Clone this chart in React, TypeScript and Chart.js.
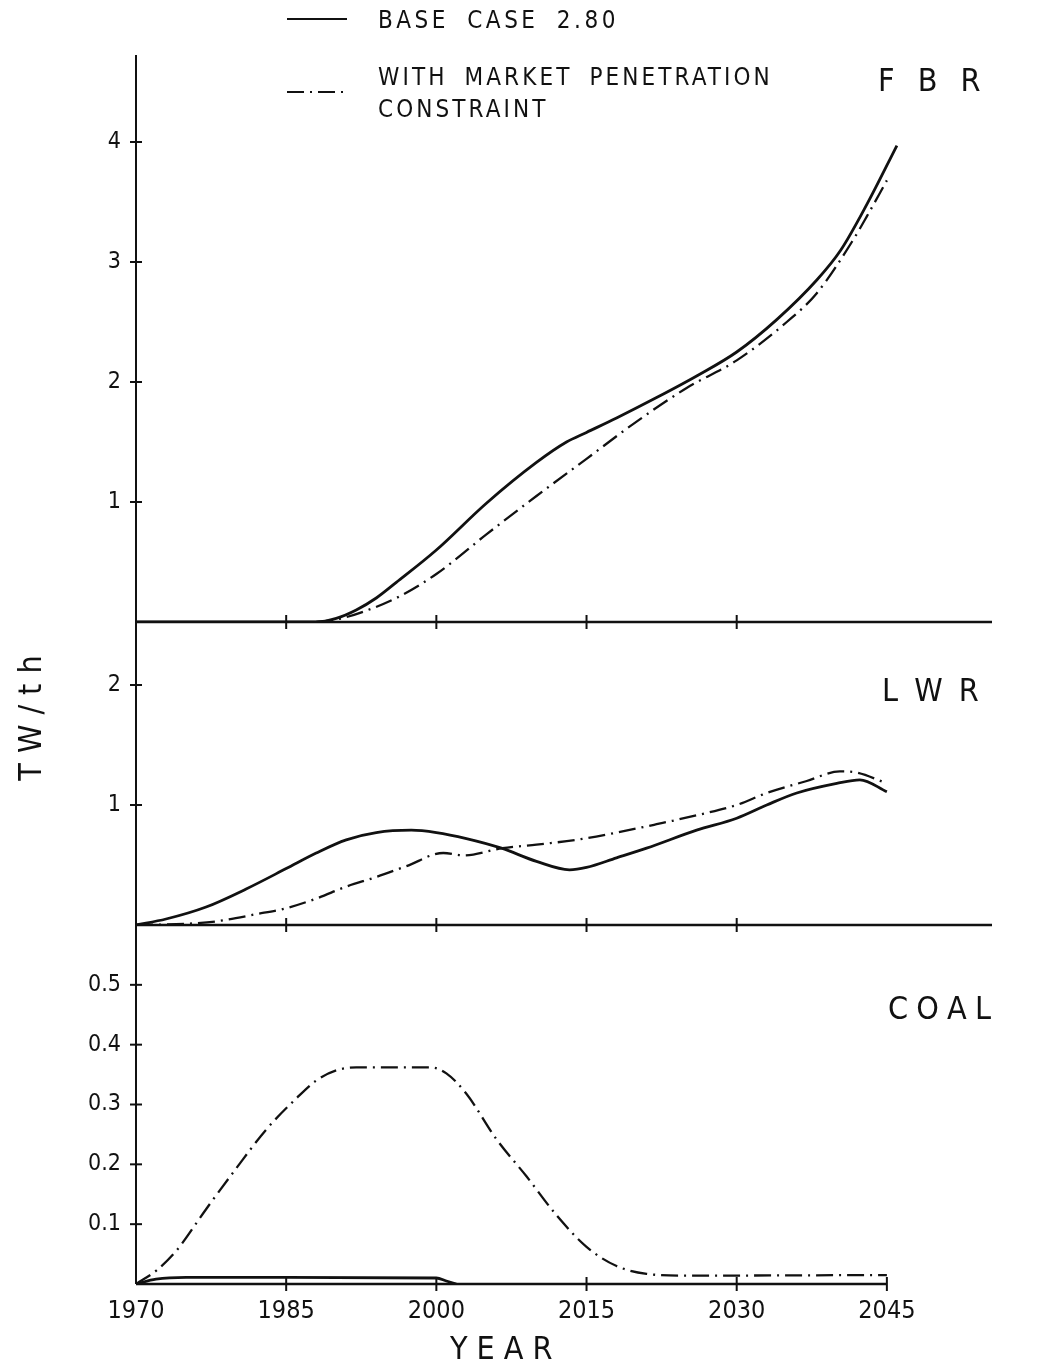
import React, { useEffect, useRef } from "react";
import { Chart, registerables } from "chart.js";

Chart.register(...registerables);

// ---------- data ----------
const X_MIN = 1970;
const X_MAX = 2055.5;
const X_TICKS = [1970, 1985, 2000, 2015, 2030, 2045];

const FBR_BASE_YEARS = [1970, 1980, 1988, 1990, 1992, 1994, 1996, 2000, 2005, 2010, 2013, 2015, 2018, 2022, 2026, 2030, 2034, 2038, 2040.4, 2043, 2046];
const FBR_BASE_VALUES = [0, 0, 0, 0.03, 0.1, 0.2, 0.33, 0.6, 0.99, 1.33, 1.5, 1.58, 1.7, 1.87, 2.05, 2.25, 2.52, 2.85, 3.1, 3.48, 3.97];

const FBR_MPC_YEARS = [1988, 1990, 1992.7, 1996, 2000, 2005, 2010, 2015, 2020, 2025, 2030, 2035, 2038, 2041.6, 2043, 2045];
const FBR_MPC_VALUES = [0, 0.02, 0.086, 0.2, 0.4, 0.73, 1.05, 1.36, 1.67, 1.95, 2.18, 2.5, 2.74, 3.18, 3.38, 3.68];

const LWR_BASE_YEARS = [1970, 1973, 1977, 1981, 1985, 1988, 1991, 1994, 1997.5, 2000, 2003, 2006.5, 2010, 2013.3, 2015, 2018, 2021, 2026, 2030, 2033, 2036, 2040, 2042.3, 2045];
const LWR_BASE_VALUES = [0, 0.05, 0.15, 0.3, 0.47, 0.6, 0.71, 0.77, 0.79, 0.77, 0.72, 0.64, 0.53, 0.46, 0.48, 0.56, 0.64, 0.79, 0.89, 1.0, 1.1, 1.18, 1.21, 1.11];

const LWR_MPC_YEARS = [1970, 1975, 1978, 1982, 1985, 1988, 1991, 1994, 1997, 2000.7, 2002.7, 2006.6, 2010, 2014, 2018, 2022, 2026.3, 2030, 2033, 2037, 2040.3, 2042, 2045];
const LWR_MPC_VALUES = [0, 0.01, 0.03, 0.09, 0.14, 0.22, 0.32, 0.4, 0.49, 0.6, 0.58, 0.64, 0.67, 0.71, 0.77, 0.84, 0.92, 1.0, 1.1, 1.2, 1.28, 1.27, 1.18];

const COAL_BASE_YEARS = [1970, 1972, 1975, 1985, 2000, 2001, 2002];
const COAL_BASE_VALUES = [0, 0.008, 0.011, 0.011, 0.01, 0.005, 0];

const COAL_MPC_YEARS = [1970, 1972, 1974, 1977, 1980, 1983, 1986, 1988, 1990, 1992, 1999.5, 2001, 2003, 2006, 2009, 2012, 2015, 2018, 2021, 2025, 2045];
const COAL_MPC_VALUES = [0, 0.022, 0.055, 0.125, 0.193, 0.258, 0.31, 0.34, 0.357, 0.362, 0.362, 0.352, 0.318, 0.242, 0.18, 0.115, 0.062, 0.03, 0.017, 0.014, 0.015];

const FBR_Y_TICKS = [1, 2, 3, 4];
const LWR_Y_TICKS = [1, 2];
const COAL_Y_TICKS = [0.1, 0.2, 0.3, 0.4, 0.5];

const LEGEND_BASE = "BASE CASE 2.80";
const LEGEND_MPC_1 = "WITH MARKET PENETRATION";
const LEGEND_MPC_2 = "CONSTRAINT";
const TITLE_FBR = "F B R";
const TITLE_LWR = "L W R";
const TITLE_COAL = "C O A L";
const X_TITLE = "YEAR";
const Y_TITLE = "TW/th";

// ---------- style ----------
const FONT = '"DejaVu Sans Condensed", "Liberation Sans Narrow", "DejaVu Sans", sans-serif';
const INK = "#111";
const DASH = [17, 6, 2, 6];

type Series = { years: number[]; values: number[]; dashed: boolean };
type PanelCfg = {
  top: number;
  bottom: number;
  yMax: number;
  yTicks: number[];
  decimals: number;
  showX: boolean;
  baseEnd: number;
  xMarks: number[];
  series: Series[];
};

function axesPlugin(cfg: PanelCfg) {
  return {
    id: "panelAxes",
    afterDatasetsDraw(chart: any) {
      const { ctx, chartArea: a, scales } = chart;
      const x = scales.x;
      const y = scales.y;
      const line = (x1: number, y1: number, x2: number, y2: number) => {
        ctx.beginPath();
        ctx.moveTo(x1, y1);
        ctx.lineTo(x2, y2);
        ctx.stroke();
      };
      ctx.save();
      ctx.strokeStyle = INK;
      ctx.lineCap = "butt";
      ctx.lineWidth = 2;
      line(a.left, a.top, a.left, a.bottom);
      cfg.yTicks.forEach((v) => {
        const py = y.getPixelForValue(v);
        line(a.left - 6, py, a.left + 6, py);
      });
      const y0 = y.getPixelForValue(0);
      ctx.lineWidth = 2.5;
      line(a.left, y0, x.getPixelForValue(cfg.baseEnd), y0);
      ctx.lineWidth = 2;
      cfg.xMarks.forEach((v) => {
        const px = x.getPixelForValue(v);
        line(px, y0 - 7, px, y0 + 7);
      });
      ctx.restore();
    },
  };
}

function makeChart(canvas: HTMLCanvasElement, cfg: PanelCfg) {
  return new Chart(canvas, {
    type: "line",
    data: {
      datasets: cfg.series.map((s) => ({
        data: s.years.map((yr, i) => ({ x: yr, y: s.values[i] })),
        borderColor: INK,
        borderWidth: s.dashed ? 2.3 : 2.8,
        borderDash: s.dashed ? DASH : [],
        pointRadius: 0,
        fill: false,
        cubicInterpolationMode: "monotone",
      })),
    },
    options: {
      animation: false,
      responsive: false,
      maintainAspectRatio: false,
      events: [],
      layout: { padding: { left: 86, right: 56, top: cfg.top, bottom: cfg.bottom } },
      plugins: { legend: { display: false }, tooltip: { enabled: false }, title: { display: false } },
      scales: {
        x: {
          type: "linear",
          min: X_MIN,
          max: X_MAX,
          display: cfg.showX,
          afterFit: (s: any) => {
            s.height = cfg.showX ? 60 : 0;
          },
          afterBuildTicks: (s: any) => {
            s.ticks = X_TICKS.map((v) => ({ value: v }));
          },
          grid: { display: false, drawTicks: false },
          border: { display: false },
          ticks: {
            padding: 12,
            maxRotation: 0,
            autoSkip: false,
            color: INK,
            font: { family: FONT, size: 25 },
            callback: (v: any) => String(v),
          },
        },
        y: {
          type: "linear",
          min: 0,
          max: cfg.yMax,
          afterFit: (s: any) => {
            s.width = 50;
          },
          afterBuildTicks: (s: any) => {
            s.ticks = cfg.yTicks.map((v) => ({ value: v }));
          },
          grid: { display: false, drawTicks: false },
          border: { display: false },
          ticks: {
            padding: 15,
            color: INK,
            font: { family: FONT, size: 23 },
            callback: (v: any) => Number(v).toFixed(cfg.decimals),
          },
        },
      },
    } as any,
    plugins: [axesPlugin(cfg)],
  });
}

const PANELS: PanelCfg[] = [
  {
    top: 55,
    bottom: 1364 - 622,
    yMax: 4.725,
    yTicks: FBR_Y_TICKS,
    decimals: 0,
    showX: false,
    baseEnd: X_MAX,
    xMarks: [1985, 2000, 2015, 2030],
    series: [
      { years: FBR_BASE_YEARS, values: FBR_BASE_VALUES, dashed: false },
      { years: FBR_MPC_YEARS, values: FBR_MPC_VALUES, dashed: true },
    ],
  },
  {
    top: 622,
    bottom: 1364 - 925,
    yMax: 2.525,
    yTicks: LWR_Y_TICKS,
    decimals: 0,
    showX: false,
    baseEnd: X_MAX,
    xMarks: [1985, 2000, 2015, 2030],
    series: [
      { years: LWR_BASE_YEARS, values: LWR_BASE_VALUES, dashed: false },
      { years: LWR_MPC_YEARS, values: LWR_MPC_VALUES, dashed: true },
    ],
  },
  {
    top: 925,
    bottom: 1364 - 1284 - 60,
    yMax: 0.6,
    yTicks: COAL_Y_TICKS,
    decimals: 1,
    showX: true,
    baseEnd: 2045,
    xMarks: [1985, 2000, 2015, 2030, 2045],
    series: [
      { years: COAL_BASE_YEARS, values: COAL_BASE_VALUES, dashed: false },
      { years: COAL_MPC_YEARS, values: COAL_MPC_VALUES, dashed: true },
    ],
  },
];

function Text(props: { left: number; cy: number; size: number; spacing: number; word?: number; children: React.ReactNode }) {
  return (
    <div
      style={{
        position: "absolute",
        left: props.left,
        top: props.cy - props.size * 0.6,
        height: props.size * 1.2,
        lineHeight: `${props.size * 1.2}px`,
        fontSize: props.size,
        fontFamily: FONT,
        letterSpacing: props.spacing,
        wordSpacing: props.word ?? 0,
        color: INK,
        whiteSpace: "pre",
      }}
    >
      {props.children}
    </div>
  );
}

export default function App() {
  const r0 = useRef<HTMLCanvasElement>(null);
  const r1 = useRef<HTMLCanvasElement>(null);
  const r2 = useRef<HTMLCanvasElement>(null);

  useEffect(() => {
    const refs = [r0, r1, r2];
    const charts = PANELS.map((p, i) => makeChart(refs[i].current as HTMLCanvasElement, p));
    return () => charts.forEach((c) => c.destroy());
  }, []);

  const canvasStyle: React.CSSProperties = { position: "absolute", left: 0, top: 0, width: 1048, height: 1364 };

  return (
    <div style={{ position: "absolute", left: 0, top: 0, width: 1048, height: 1364, background: "#fff", overflow: "hidden" }}>
      <canvas ref={r0} width={1048} height={1364} style={canvasStyle} />
      <canvas ref={r1} width={1048} height={1364} style={canvasStyle} />
      <canvas ref={r2} width={1048} height={1364} style={canvasStyle} />

      {/* legend */}
      <div style={{ position: "absolute", left: 287, top: 18, width: 60, borderTop: `2px solid ${INK}` }} />
      <svg style={{ position: "absolute", left: 287, top: 86 }} width={62} height={12}>
        <line x1={0} y1={6} x2={62} y2={6} stroke={INK} strokeWidth={2} strokeDasharray={DASH.join(" ")} />
      </svg>
      <Text left={378} cy={20} size={24} spacing={3.5} word={8}>{LEGEND_BASE}</Text>
      <Text left={378} cy={77} size={24} spacing={3.1} word={7}>{LEGEND_MPC_1}</Text>
      <Text left={378} cy={109} size={24} spacing={3.1} word={7}>{LEGEND_MPC_2}</Text>

      {/* panel titles */}
      <Text left={878} cy={80} size={32} spacing={7}>{TITLE_FBR}</Text>
      <Text left={882} cy={690} size={32} spacing={3.5}>{TITLE_LWR}</Text>
      <Text left={888} cy={1008} size={32} spacing={-0.5}>{TITLE_COAL}</Text>

      {/* axis titles */}
      <Text left={450} cy={1348} size={32} spacing={9}>{X_TITLE}</Text>
      <div
        style={{
          position: "absolute",
          left: 30 - 70,
          top: 713 - 20,
          width: 140,
          height: 40,
          lineHeight: "40px",
          textAlign: "center",
          fontSize: 32,
          fontFamily: FONT,
          letterSpacing: 10,
          color: INK,
          transform: "rotate(-90deg)",
          whiteSpace: "pre",
        }}
      >
        {Y_TITLE}
      </div>
    </div>
  );
}
